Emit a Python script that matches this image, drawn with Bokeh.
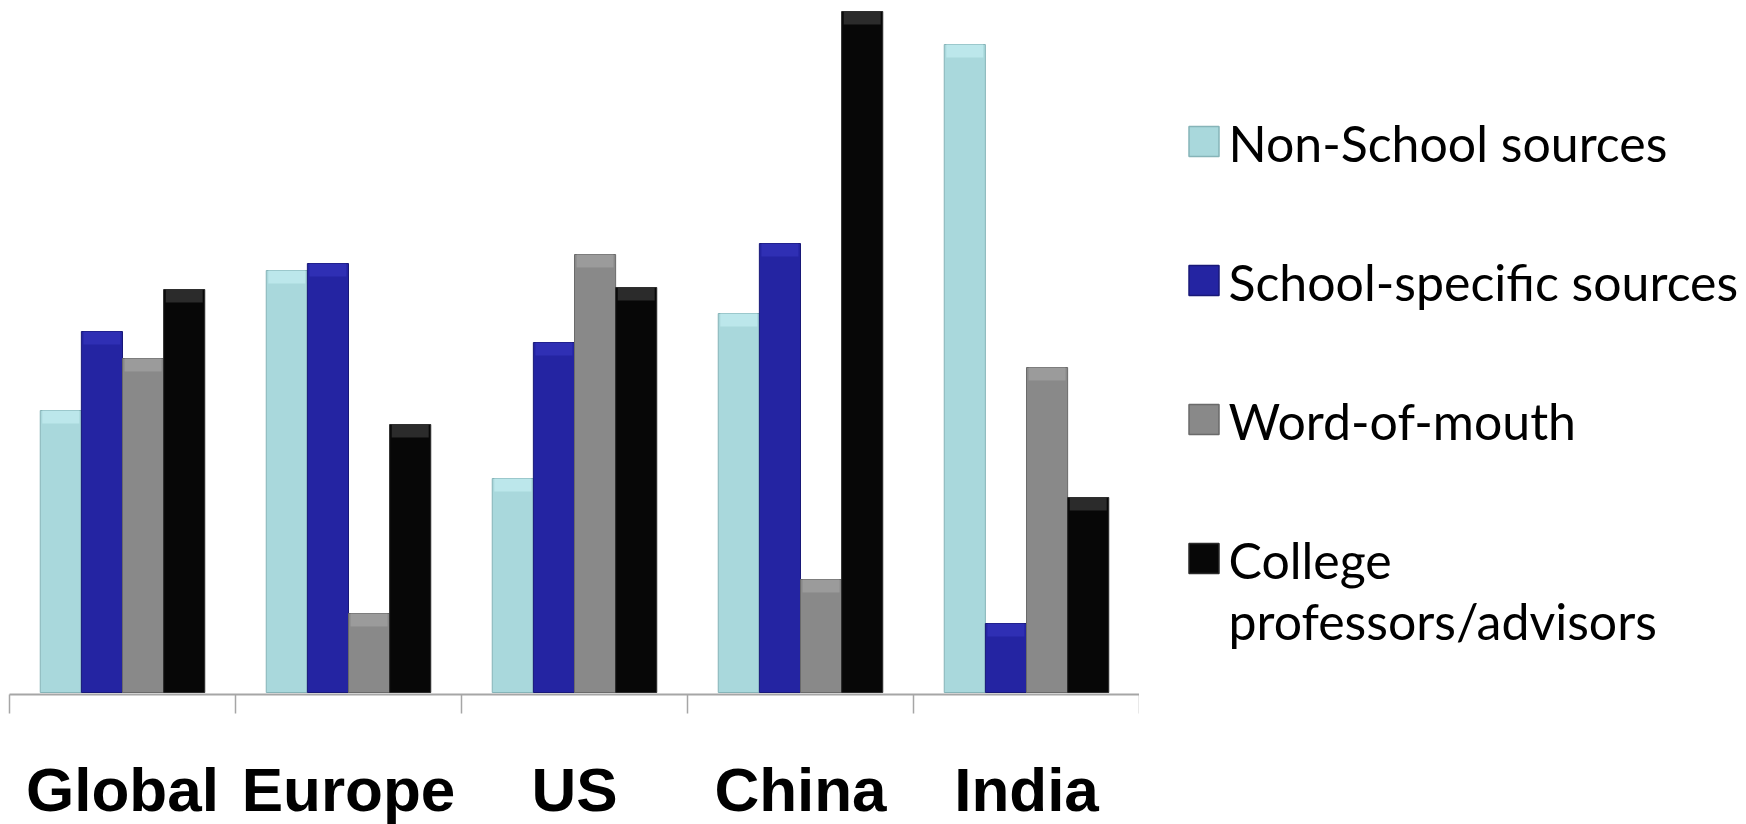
from bokeh.plotting import figure
from bokeh.layouts import row
from bokeh.models import Range1d, FixedTicker, ColumnDataSource
from bokeh.core.properties import value
from bokeh.embed import file_html
from bokeh.resources import INLINE

categories = ["Global", "Europe", "US", "China", "India"]
series = ["Non-School sources", "School-specific sources", "Word-of-mouth",
          "College\nprofessors/advisors"]
non_school = [28.2, 42.2, 21.4, 37.9, 64.8]
school_specific = [36.1, 42.9, 35.0, 44.9, 6.9]
word_of_mouth = [33.4, 7.9, 43.8, 11.3, 32.5]
college = [40.3, 26.8, 40.5, 68.1, 19.5]

values = [non_school, school_specific, word_of_mouth, college]
fills = ["#A9D8DC", "#2424A2", "#898989", "#070707"]
edges = ["#86B4B8", "#181878", "#6A6A6A", "#2A2A2A"]
caps = ["#C4EEF1", "#3434BC", "#A2A2A2", "#3A3A3A"]

n = len(categories)
bar_w = 0.182
offsets = [-1.5 * bar_w, -0.5 * bar_w, 0.5 * bar_w, 1.5 * bar_w]
cap_h = 1.3

FRAME_H = 694
BOTTOM = 130

p = figure(frame_width=1130, frame_height=FRAME_H,
           x_range=Range1d(0, n), y_range=Range1d(-0.2, 69.2),
           output_backend="svg", toolbar_location=None,
           min_border_left=9, min_border_top=0, min_border_right=0,
           min_border_bottom=BOTTOM)
p.outline_line_color = None
p.xgrid.visible = False
p.ygrid.visible = False
p.yaxis.visible = False

for k, vals in enumerate(values):
    xs = [i + 0.5 + offsets[k] for i in range(n)]
    src = ColumnDataSource(dict(x=xs, top=vals, capb=[v - cap_h for v in vals]))
    p.vbar(x="x", top="top", bottom=0, width=bar_w, source=src,
           fill_color=fills[k], line_color=edges[k], line_width=1)
    p.vbar(x="x", top="top", bottom="capb", width=bar_w * 0.9, source=src,
           fill_color=caps[k], line_color=None, fill_alpha=0.7)

ax = p.xaxis[0]
ax.ticker = FixedTicker(ticks=[i + 0.5 for i in range(n)], minor_ticks=list(range(n + 1)))
ax.major_label_overrides = {i + 0.5: c for i, c in enumerate(categories)}
ax.major_tick_line_color = None
ax.major_tick_out = 0
ax.major_tick_in = 0
ax.minor_tick_out = 19
ax.minor_tick_in = 0
ax.minor_tick_line_color = "#A6A6A6"
ax.minor_tick_line_width = 1.5
ax.axis_line_color = "#A6A6A6"
ax.axis_line_width = 2
ax.major_label_text_font = "Liberation Sans"
ax.major_label_text_font_style = "bold"
ax.major_label_text_font_size = "62px"
ax.major_label_text_color = "black"
ax.major_label_standoff = 41

# legend panel (frame aligned with the chart frame, 1 unit = 1 px)
lg = figure(width=607, frame_height=FRAME_H, x_range=Range1d(0, 607),
            y_range=Range1d(FRAME_H, 0),
            output_backend="svg", toolbar_location=None,
            min_border_left=0, min_border_right=0,
            min_border_top=0, min_border_bottom=BOTTOM)
lg.outline_line_color = None
lg.axis.visible = False
lg.grid.visible = False

pitch = 139
first = 141
ys = [first + i * pitch for i in range(len(series))]
lsrc = ColumnDataSource(dict(x=[64.5] * len(series), y=ys, fill=fills, edge=edges,
                             tx=[89] * len(series), ty=[y - 29 for y in ys], label=series))
lg.rect(x="x", y="y", width=30, height=30, source=lsrc,
        fill_color="fill", line_color="edge", line_width=1.5)
lg.text(x="tx", y="ty", text="label", source=lsrc, text_font=value("Lato"),
        text_font_size="50px", text_baseline="top", text_align="left",
        text_color="black", text_line_height=1.03)

layout = row(p, lg, spacing=0)
open("out.html", "w").write(file_html(layout, INLINE))
